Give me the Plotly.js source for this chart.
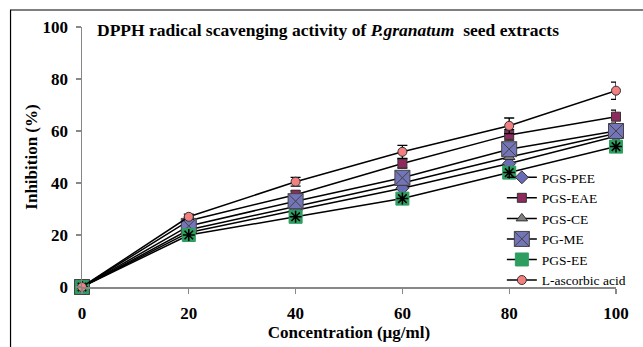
<!DOCTYPE html>
<html>
<head>
<meta charset="utf-8">
<script src="https://cdn.plot.ly/plotly-3.0.1.min.js"></script>
<style>html,body{margin:0;padding:0;background:#fff;}#chart{width:643px;height:347px;}</style>
</head>
<body>
<div id="chart"></div>
<script>
const concentration = [0, 20, 40, 60, 80, 100];
const seriesNames = ['PGS-PEE', 'PGS-EAE', 'PGS-CE', 'PG-ME', 'PGS-EE', 'L-ascorbic acid'];
const pgsPEE = [0, 21, 29.5, 38, 47.5, 58];
const pgsEAE = [0, 25.5, 35.5, 47.5, 58.5, 65.5];
const pgsCE = [0, 22, 31, 40, 50, 59];
const pgME = [0, 23.5, 33, 42, 53, 60];
const pgsEE = [0, 20, 27, 34, 44, 54];
const ascorbic = [0, 27, 40.5, 52, 62, 75.5];
const errEAE = [0, 1, 1.5, 1.8, 2, 2.5];
const errME = [0, 1, 1.5, 2, 2, 2];
const errAscorbic = [0.5, 1, 1.7, 2.5, 3, 3.3];
const yTicks = [0, 20, 40, 60, 80, 100];
const xTicks = [0, 20, 40, 60, 80, 100];

const lineStyle = {color: '#000', width: 1.5};
function errBar(arr) {
  return {type: 'data', array: arr, visible: true, color: '#000', thickness: 1.3, width: 5};
}
const traces = [
  {x: concentration, y: pgsPEE, name: seriesNames[0], mode: 'lines+markers', line: lineStyle, legendrank: 1,
   marker: {symbol: 'diamond', size: 10, color: '#6b6bb5', line: {color: '#333', width: 1}}},
  {x: concentration, y: pgsEAE, name: seriesNames[1], mode: 'lines+markers', line: lineStyle, legendrank: 2,
   error_y: errBar(errEAE),
   marker: {symbol: 'square', size: 9, color: '#8e2a5e', line: {color: '#333', width: 1}}},
  {x: concentration, y: pgsCE, name: seriesNames[2], mode: 'lines+markers', line: lineStyle, legendrank: 3,
   marker: {symbol: 'triangle-up', size: 10, color: '#7f7f7f', line: {color: '#333', width: 1}}},
  {x: concentration, y: pgME, name: seriesNames[3], mode: 'lines+markers', line: lineStyle, legendrank: 4,
   error_y: errBar(errME),
   marker: {symbol: 'square-x', size: 15, color: '#7474b8', line: {color: '#444', width: 1}}},
  {x: concentration, y: pgsEE, name: seriesNames[4], mode: 'lines+markers', line: lineStyle, legendrank: 5,
   legendgroup: 'ee',
   marker: {symbol: 'square', size: 13, color: '#2e9e60', line: {color: '#2e9e60', width: 1}}},
  {x: concentration, y: pgsEE, name: seriesNames[4], mode: 'markers', showlegend: false, legendgroup: 'ee',
   marker: {symbol: 'asterisk-open', size: 10, color: '#000', line: {color: '#000', width: 1.5}}},
  {x: concentration, y: ascorbic, name: seriesNames[5], mode: 'lines+markers', line: lineStyle, legendrank: 6,
   error_y: errBar(errAscorbic),
   marker: {symbol: 'circle', size: 9, color: '#f28080', line: {color: '#333', width: 1}}}
];
traces.forEach(t => { t.cliponaxis = false; });

const serif = 'Liberation Serif';
const layout = {
  width: 643, height: 347,
  margin: {l: 82, r: 23, t: 27, b: 60},
  paper_bgcolor: '#fff', plot_bgcolor: '#fff',
  font: {family: serif, color: '#000'},
  title: {text: 'DPPH radical scavenging activity of <i>P.granatum</i>  seed extracts',
          font: {family: serif, size: 17.5, weight: 'bold', color: '#000'},
          x: 97/643, xanchor: 'left', y: 1 - 30/347, yanchor: 'middle'},
  xaxis: {range: [0, 100], tickvals: xTicks, ticktext: xTicks.map(String), showgrid: false, zeroline: false,
          showline: true, linecolor: '#888', linewidth: 1.5, ticks: 'outside', ticklen: 5, tickcolor: '#888',
          tickwidth: 1.2, tickfont: {family: serif, size: 17, weight: 'bold', color: '#000'}, ticklabelstandoff: 5,
          title: {text: 'Concentration (µg/ml)', font: {family: serif, size: 17, weight: 'bold', color: '#000'}, standoff: 2}},
  yaxis: {range: [0, 100], tickvals: yTicks, ticktext: yTicks.map(String), showgrid: false, zeroline: false,
          showline: true, linecolor: '#888', linewidth: 1.5, ticks: 'outside', ticklen: 5, tickcolor: '#888',
          tickwidth: 1.2, tickfont: {family: serif, size: 17, weight: 'bold', color: '#000'}, ticklabelstandoff: 4,
          title: {text: 'Inhibition (%)', font: {family: serif, size: 17, weight: 'bold', color: '#000'}, standoff: 0}},
  legend: {x: (505 - 82) / 538, y: (287 - 162) / 260, xanchor: 'left', yanchor: 'top',
           bgcolor: 'rgba(255,255,255,0)', font: {family: serif, size: 13.5, color: '#000'},
           tracegroupgap: 0, itemwidth: 30},
  shapes: [{type: 'rect', xref: 'paper', yref: 'paper', x0: (10 - 82) / 538, x1: 1.2, y0: -0.4, y1: (287 - 10) / 260,
            line: {color: '#000', width: 1.2}, fillcolor: 'rgba(0,0,0,0)', layer: 'below'}],
  showlegend: true
};
Plotly.newPlot('chart', traces, layout, {displayModeBar: false, staticPlot: true});
</script>
</body>
</html>
